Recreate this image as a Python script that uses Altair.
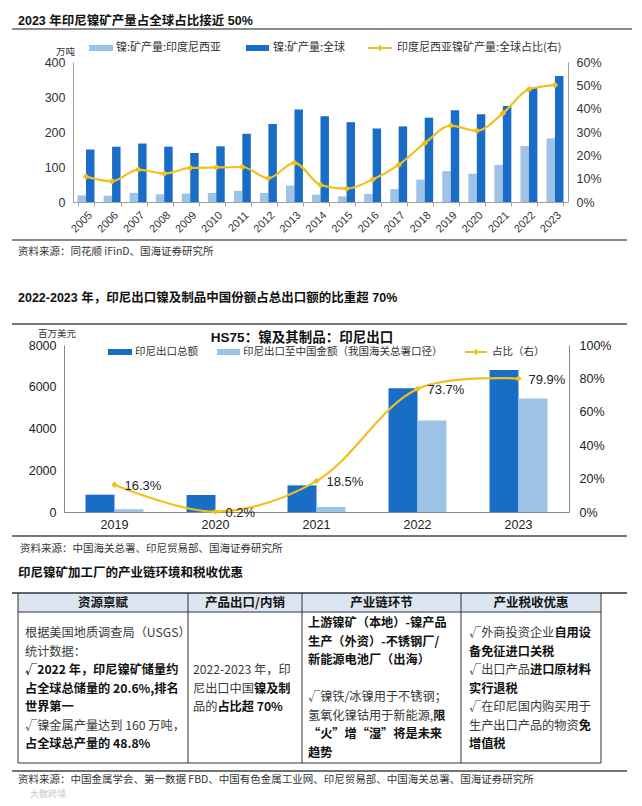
import altair as alt
import pandas as pd

# ---------------- data ----------------
years1 = [str(y) for y in range(2005, 2024)]
indo_output = [19, 18, 26, 22, 24, 26, 32, 26, 47, 21, 16, 23, 37, 64, 88, 81, 106, 160, 182]
world_output = [150, 158, 167, 158, 140, 159, 195, 223, 264, 245, 228, 210, 216, 241, 262, 251, 274, 327, 360]
indo_share = [10.9, 8.9, 13.9, 12.2, 14.6, 14.8, 15.0, 10.2, 16.8, 7.3, 5.7, 9.6, 15.9, 25.2, 32.7, 30.5, 38.0, 48.3, 50.1]
series1 = ["镍:矿产量:印度尼西亚", "镍:矿产量:全球", "印度尼西亚镍矿产量:全球占比(右)"]
ticks1_left = [0, 100, 200, 300, 400]
ticks1_right = [0, 0.1, 0.2, 0.3, 0.4, 0.5, 0.6]

years2 = ["2019", "2020", "2021", "2022", "2023"]
export_total = [829, 815, 1275, 5930, 6805]
export_china = [135, 2, 236, 4380, 5440]
china_share = [16.3, 0.2, 18.5, 73.7, 79.9]
series2 = ["印尼出口总额", "印尼出口至中国金额（我国海关总署口径）", "占比（右）"]
ticks2_left = [0, 2000, 4000, 6000, 8000]
ticks2_right = [0, 0.2, 0.4, 0.6, 0.8, 1.0]

title1 = "2023 年印尼镍矿产量占全球占比接近 50%"
title2 = "2022-2023 年，印尼出口镍及制品中国份额占总出口额的比重超 70%"
title3 = "印尼镍矿加工厂的产业链环境和税收优惠"
chart2_title = "HS75：镍及其制品：印尼出口"
unit1 = "万吨"
unit2 = "百万美元"
source1 = "资料来源：同花顺 iFinD、国海证券研究所"
source2 = "资料来源：中国海关总署、印尼贸易部、国海证券研究所"
source3 = "资料来源：中国金属学会、第一数据 FBD、中国有色金属工业网、印尼贸易部、中国海关总署、国海证券研究所"
watermark = "大数跨境"

table_headers = ["资源禀赋", "产品出口/内销", "产业链环节", "产业税收优惠"]
col_resource = [
    "根据美国地质调查局（USGS）",
    "统计数据：",
    "**√2022 年，印尼镍矿储量约**",
    "**占全球总储量的 20.6%,排名**",
    "**世界第一**",
    "√镍金属产量达到 160 万吨，",
    "**占全球总产量的 48.8%**",
]
col_export = [
    "",
    "",
    "2022-2023 年，印",
    "尼出口中国**镍及制**",
    "品的**占比超 70%**",
]
col_chain = [
    "**上游镍矿（本地）-镍产品**",
    "**生产（外资）-不锈钢厂/**",
    "**新能源电池厂（出海）**",
    "",
    "√镍铁/冰镍用于不锈钢；",
    "氢氧化镍钴用于新能源,**限**",
    "**“火”增“湿”将是未来**",
    "**趋势**",
]
col_tax = [
    "√外商投资企业**自用设**",
    "**备免征进口关税**",
    "√出口产品**进口原材料**",
    "**实行退税**",
    "√在印尼国内购买用于",
    "生产出口产品的物资**免**",
    "**增值税**",
]

# ---------------- styling / layout ----------------
W, H = 626, 790
FONT = "Liberation Sans, Noto Sans CJK SC"
CJK = "Noto Sans CJK SC"
DARK = "#1a6dc6"
LIGHT = "#9dc3e6"
GOLD = "#f2c01e"
AXC = "#a0a0a0"
TXT = "#333333"
ONE = pd.DataFrame({"k": [0]})


def text(s, x, y, size=11, bold=False, color=TXT, align="left", font=FONT):
    return alt.Chart(ONE).mark_text(
        text=s, align=align, baseline="middle", fontSize=size,
        fontWeight="bold" if bold else "normal", color=color, font=font,
    ).encode(x=alt.value(x), y=alt.value(y))


def hline(x1, x2, y, color="#666", w=1.0):
    return alt.Chart(ONE).mark_rule(color=color, strokeWidth=w).encode(
        x=alt.value(x1), x2=alt.value(x2), y=alt.value(y))


def vline(x, y1, y2, color="#333", w=1.0):
    return alt.Chart(ONE).mark_rule(color=color, strokeWidth=w).encode(
        x=alt.value(x), y=alt.value(y1), y2=alt.value(y2))


def box(x1, x2, y1, y2, color):
    return alt.Chart(ONE).mark_rect(color=color).encode(
        x=alt.value(x1), x2=alt.value(x2), y=alt.value(y1), y2=alt.value(y2))


def diamond(x, y, size=40):
    return alt.Chart(ONE).mark_point(shape="diamond", filled=True, size=size, color=GOLD, opacity=1).encode(
        x=alt.value(x), y=alt.value(y))


layers = []

# ---------------- chart 1 ----------------
X1 = [65, 560]
Y1 = [194, 54]
xs1 = alt.Scale(domain=years1, range=X1, paddingInner=0.35, paddingOuter=0.175)
df1 = pd.DataFrame({
    "year": years1 * 2,
    "series": [series1[0]] * len(years1) + [series1[1]] * len(years1),
    "value": indo_output + world_output,
})
bars1 = alt.Chart(df1).mark_bar().encode(
    x=alt.X("year:N", scale=xs1, axis=alt.Axis(
        orient="bottom", offset=-(H - Y1[0]), labelAngle=-45, labelFontSize=11, labelFont=FONT,
        labelColor=TXT, ticks=True, tickBand="extent", tickSize=4, tickColor=AXC, domainColor=AXC,
        labelPadding=3, title=None, grid=False, labelOverlap=False)),
    xOffset=alt.XOffset("series:N", scale=alt.Scale(domain=series1[:2], paddingInner=0, paddingOuter=0)),
    y=alt.Y("value:Q", scale=alt.Scale(domain=[0, 400], range=Y1, nice=False), axis=alt.Axis(
        orient="left", offset=-X1[0], values=ticks1_left, ticks=False, labelPadding=8, domainColor=AXC,
        labelFontSize=12.5, labelFont=FONT, labelColor=TXT, title=None, grid=False)),
    color=alt.Color("series:N", scale=alt.Scale(domain=series1[:2], range=[LIGHT, DARK]), legend=None),
)
dfl1 = pd.DataFrame({"year": years1, "share": [v / 100 for v in indo_share]})
ys1r = alt.Scale(domain=[0, 0.6], range=Y1, nice=False)
line1 = alt.Chart(dfl1).mark_line(color=GOLD, strokeWidth=2.2, interpolate="monotone").encode(
    x=alt.X("year:N", scale=xs1, axis=None),
    y=alt.Y("share:Q", scale=ys1r, axis=alt.Axis(
        orient="right", offset=-(W - X1[1]), values=ticks1_right, format=".0%", ticks=False,
        labelPadding=8, domainColor=AXC, labelFontSize=12.5, labelFont=FONT, labelColor=TXT,
        title=None, grid=False)),
)
pts1 = alt.Chart(dfl1).mark_point(shape="diamond", filled=True, size=45, color=GOLD, opacity=1).encode(
    x=alt.X("year:N", scale=xs1, axis=None),
    y=alt.Y("share:Q", scale=ys1r, axis=None),
)
layers += [bars1, line1, pts1]

# legend 1
layers += [
    box(81, 105, 37, 43, LIGHT), text(series1[0], 108, 40, 11, font=CJK),
    box(238, 261, 37, 43, DARK), text(series1[1], 265, 40, 11, font=CJK),
    hline(360, 384, 40, GOLD, 2), diamond(372, 40, 35), text(series1[2], 389, 40, 11, font=CJK),
    text(unit1, 48, 44, 9.5, font=CJK),
]

# ---------------- chart 2 ----------------
X2 = [56, 561]
Y2 = [504, 337]
xs2 = alt.Scale(domain=years2, range=X2, paddingInner=0.426, paddingOuter=0.213)
df2 = pd.DataFrame({
    "year": years2 * 2,
    "series": [series2[0]] * len(years2) + [series2[1]] * len(years2),
    "value": export_total + export_china,
})
bars2 = alt.Chart(df2).mark_bar().encode(
    x=alt.X("year:N", scale=xs2, axis=alt.Axis(
        orient="bottom", offset=-(H - Y2[0]), labelAngle=0, labelFontSize=12.5, labelFont=FONT,
        labelColor="#222", ticks=False, domainColor="#888", labelPadding=6, title=None, grid=False)),
    xOffset=alt.XOffset("series:N", scale=alt.Scale(domain=series2[:2], paddingInner=0, paddingOuter=0)),
    y=alt.Y("value:Q", scale=alt.Scale(domain=[0, 8000], range=Y2, nice=False), axis=alt.Axis(
        orient="left", offset=-X2[0], values=ticks2_left, format="d", ticks=False, labelPadding=8,
        domainColor="#888", labelFontSize=12.5, labelFont=FONT, labelColor="#222", title=None, grid=False)),
    color=alt.Color("series:N", scale=alt.Scale(domain=series2[:2], range=[DARK, LIGHT]), legend=None),
)
dfl2 = pd.DataFrame({"year": years2, "share": [v / 100 for v in china_share],
                     "lbl": [f"{v}%" for v in china_share]})
ys2r = alt.Scale(domain=[0, 1], range=Y2, nice=False)
line2 = alt.Chart(dfl2).mark_line(color=GOLD, strokeWidth=2.2, interpolate="catmull-rom").encode(
    x=alt.X("year:N", scale=xs2, axis=None),
    y=alt.Y("share:Q", scale=ys2r, axis=alt.Axis(
        orient="right", offset=-(W - X2[1]), values=ticks2_right, format=".0%", ticks=False,
        labelPadding=10, domainColor="#888", labelFontSize=12.5, labelFont=FONT, labelColor="#222",
        title=None, grid=False)),
)
pts2 = alt.Chart(dfl2).mark_point(shape="diamond", filled=True, size=40, color=GOLD, opacity=1).encode(
    x=alt.X("year:N", scale=xs2, axis=None),
    y=alt.Y("share:Q", scale=ys2r, axis=None),
)
lbl2 = alt.Chart(dfl2).mark_text(align="left", baseline="middle", dx=10, dy=1, fontSize=13,
                                 font=FONT, color="#222").encode(
    x=alt.X("year:N", scale=xs2, axis=None),
    y=alt.Y("share:Q", scale=ys2r, axis=None),
    text="lbl:N",
)
layers += [bars2, line2, pts2, lbl2]

layers += [
    text(chart2_title, 294, 329.5, 13.5, bold=True, color="#111", align="center"),
    text(unit2, 30, 325.5, 9.5, font=CJK),
    box(100, 124, 341, 347, DARK), text(series2[0], 127, 344, 10.5, font=CJK),
    box(209, 232, 341, 347, LIGHT), text(series2[1], 235, 344, 10.5, font=CJK),
    hline(457, 479, 344, GOLD, 2), diamond(468, 344, 35), text(series2[2], 484, 344, 10.5, font=CJK),
]

# ---------------- section titles, rules, sources ----------------
layers += [
    text(title1, 10, 13, 12.5, bold=True, color="#111"),
    hline(4, 624, 21, "#666", 1.5),
    hline(4, 619, 232, "#8a8a8a", 2),
    text(source1, 10, 244, 10.5, font=CJK),
    text(title2, 10, 290, 12.5, bold=True, color="#111"),
    hline(4, 619, 316, "#777", 2),
    hline(4, 619, 528, "#777", 2),
    text(source2, 12, 541, 10.5, font=CJK),
    text(title3, 10, 565, 12.5, bold=True, color="#111", font=CJK),
]

# ---------------- table ----------------
T_TOP, T_HEAD, T_BOT = 585, 604, 755
COLS = [10, 180, 294, 453, 593]
layers += [box(COLS[0], COLS[-1], T_TOP, T_HEAD, "#dce6f2")]
layers += [hline(4, 619, T_TOP, "#333", 1.5), hline(COLS[0], COLS[-1], T_HEAD, "#333", 1),
           hline(COLS[0], COLS[-1], T_BOT, "#333", 1)]
layers += [vline(c, T_TOP, T_BOT) for c in COLS]
for i, h in enumerate(table_headers):
    layers.append(text(h, (COLS[i] + COLS[i + 1]) / 2, (T_TOP + T_HEAD) / 2, 12.5, bold=True,
                       color="#111", align="center", font=CJK))

FS = 12.2
LH = 18.5


def twidth(s, size):
    w = 0.0
    for ch in s:
        o = ord(ch)
        if o >= 0x2E80 or ch in "√“”":
            w += 1.0
        elif ch == " ":
            w += 0.25
        elif ch in ".,:;":
            w += 0.27
        elif ch == "%":
            w += 0.85
        elif ch == "/":
            w += 0.4
        elif ch == "-":
            w += 0.35
        else:
            w += 0.55
    return w * size


cells = [(col_resource, 17, 625), (col_export, 185, 625), (col_chain, 300, 615), (col_tax, 461, 625)]
rows = []
for lines, x0, top in cells:
    for li, line in enumerate(lines):
        off = 0.0
        for pi, seg in enumerate(line.split("**")):
            if not seg:
                continue
            rows.append({"t": seg, "x": x0 + off, "y": top + li * LH, "b": pi % 2})
            off += twidth(seg, FS)
tdf = pd.DataFrame(rows)
for b in (0, 1):
    sub = tdf[tdf["b"] == b]
    layers.append(alt.Chart(sub).mark_text(
        align="left", baseline="middle", fontSize=FS, font=CJK,
        fontWeight="bold" if b else "normal", color="#111" if b else "#3a3a3a",
    ).encode(
        x=alt.X("x:Q", scale=None, axis=None),
        y=alt.Y("y:Q", scale=None, axis=None),
        text="t:N",
    ))

layers += [
    hline(4, 619, 763, "#444", 1.5),
    text(source3, 10, 772, 10.5, font=CJK),
    text(watermark, 22, 785.5, 9, color="#c8c8c8", font=CJK),
]

chart = alt.layer(*layers).properties(
    width=W, height=H, padding=0, autosize=alt.AutoSizeParams(type="none"), background="white",
).resolve_scale(
    x="independent", y="independent", color="independent", xOffset="independent",
).configure_view(stroke=None)

chart.save("out.html", embed_options={"renderer": "svg", "actions": False})
